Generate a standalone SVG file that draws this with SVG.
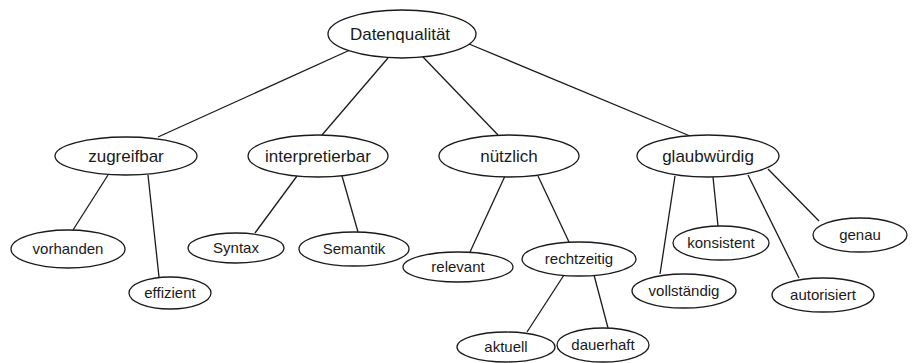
<svg xmlns="http://www.w3.org/2000/svg" width="915" height="363" viewBox="0 0 915 363">
<style>
.n ellipse{fill:#fff;stroke:#1a1a1a;stroke-width:1.3}
.n text{font-family:"Liberation Sans",Arial,sans-serif;fill:#1a1a1a;text-anchor:middle}
.big text{font-size:17px}
.sm text{font-size:15px}
#edges line{stroke:#1a1a1a;stroke-width:1.3}
</style>
<rect width="915" height="363" fill="#fff"/>
<g id="edges">
<line x1="350" y1="50" x2="158" y2="137"/>
<line x1="388" y1="58" x2="322" y2="135"/>
<line x1="423" y1="57" x2="498" y2="135"/>
<line x1="469" y1="44" x2="690" y2="136"/>
<line x1="108" y1="175" x2="73" y2="230"/>
<line x1="148" y1="175" x2="159" y2="277"/>
<line x1="297" y1="176" x2="255" y2="233"/>
<line x1="342" y1="176" x2="358" y2="232"/>
<line x1="505" y1="176" x2="470" y2="252"/>
<line x1="538" y1="176" x2="569" y2="242"/>
<line x1="564" y1="275" x2="527" y2="332"/>
<line x1="594" y1="275" x2="608" y2="328"/>
<line x1="675" y1="176" x2="660" y2="274"/>
<line x1="713" y1="177" x2="718" y2="226"/>
<line x1="748" y1="175" x2="799" y2="278"/>
<line x1="768" y1="169" x2="819" y2="221"/>
</g>
<g id="datenqualitaet" class="n big"><ellipse cx="402" cy="34" rx="74" ry="24"/><text x="400" y="40">Datenqualität</text></g>
<g id="zugreifbar" class="n big"><ellipse cx="126" cy="156" rx="71" ry="19"/><text x="126" y="162">zugreifbar</text></g>
<g id="interpretierbar" class="n big"><ellipse cx="318" cy="156" rx="70" ry="21"/><text x="318" y="162">interpretierbar</text></g>
<g id="nuetzlich" class="n big"><ellipse cx="509" cy="156" rx="70" ry="21"/><text x="509" y="162">nützlich</text></g>
<g id="glaubwuerdig" class="n big"><ellipse cx="708" cy="156" rx="71" ry="21"/><text x="708" y="162">glaubwürdig</text></g>
<g id="vorhanden" class="n sm"><ellipse cx="68" cy="249" rx="57" ry="19"/><text x="68" y="254">vorhanden</text></g>
<g id="effizient" class="n sm"><ellipse cx="170" cy="293" rx="41" ry="16"/><text x="170" y="298">effizient</text></g>
<g id="syntax" class="n sm"><ellipse cx="236" cy="248" rx="48" ry="15"/><text x="236" y="253">Syntax</text></g>
<g id="semantik" class="n sm"><ellipse cx="354" cy="249" rx="55" ry="17"/><text x="354" y="254">Semantik</text></g>
<g id="relevant" class="n sm"><ellipse cx="458" cy="267" rx="55" ry="15"/><text x="458" y="272">relevant</text></g>
<g id="rechtzeitig" class="n sm"><ellipse cx="579" cy="259" rx="57" ry="17"/><text x="579" y="264">rechtzeitig</text></g>
<g id="aktuell" class="n sm"><ellipse cx="506" cy="347" rx="49" ry="15"/><text x="506" y="352">aktuell</text></g>
<g id="dauerhaft" class="n sm"><ellipse cx="603" cy="345" rx="46" ry="17"/><text x="603" y="350">dauerhaft</text></g>
<g id="konsistent" class="n sm"><ellipse cx="721" cy="243" rx="48" ry="17"/><text x="721" y="248">konsistent</text></g>
<g id="genau" class="n sm"><ellipse cx="860" cy="235" rx="47" ry="17"/><text x="860" y="240">genau</text></g>
<g id="vollstaendig" class="n sm"><ellipse cx="684" cy="291" rx="52" ry="17"/><text x="684" y="296">vollständig</text></g>
<g id="autorisiert" class="n sm"><ellipse cx="823" cy="295" rx="51" ry="17"/><text x="823" y="300">autorisiert</text></g>
</svg>
